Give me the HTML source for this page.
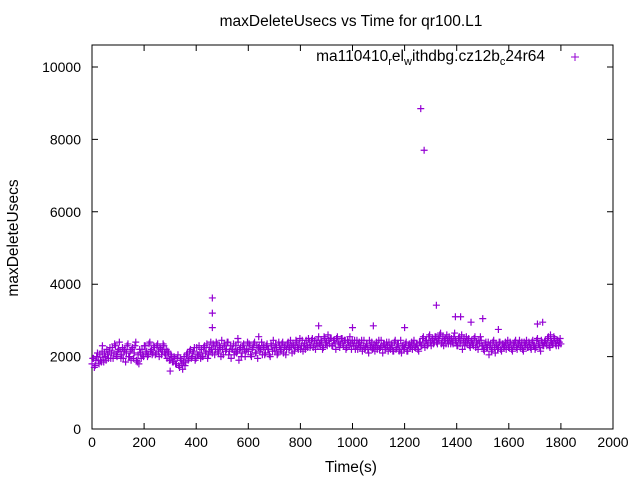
<!DOCTYPE html>
<html><head><meta charset="utf-8"><style>
body{margin:0;background:#fff}
svg{display:block;font-family:"Liberation Sans",sans-serif}
</style></head><body>
<svg id="chart" width="640" height="480" xmlns="http://www.w3.org/2000/svg">
<rect width="640" height="480" fill="#fff"/>
<text x="351" y="26" font-size="15.5" text-anchor="middle">maxDeleteUsecs vs Time for qr100.L1</text>
<text transform="translate(18,238) rotate(-90)" font-size="15.5" text-anchor="middle">maxDeleteUsecs</text>
<text x="351" y="472" font-size="15.5" text-anchor="middle">Time(s)</text>
<g id="axes"></g>
<g id="marks"></g>
<g>
<text x="545" y="61" font-size="15.5" text-anchor="end">ma110410<tspan font-size="11" dy="4">r</tspan><tspan dy="-4">el</tspan><tspan font-size="11" dy="4">w</tspan><tspan dy="-4">ithdbg.cz12b</tspan><tspan font-size="11" dy="4">c</tspan><tspan dy="-4">24r64</tspan></text>
<path d="M571 57h8M575 53v8" stroke="#9400d3" stroke-width="1"/>
</g>
</svg>
<script>
const xTicks=[0,200,400,600,800,1000,1200,1400,1600,1800,2000];
const yTicks=[0,2000,4000,6000,8000,10000];
const tStart=0, tStep=6, tStart2=3;
const values=[
1800,1950,1750,2000,1900,2050,1850,1980,2100,1900,
2050,2150,1950,2250,2100,2300,2000,2200,2150,2050,
1950,2200,2100,2350,2000,1900,2250,2100,2400,1850,
1800,2100,2200,2000,2300,2150,2050,2400,2200,2100,
2250,2100,2350,2000,2200,2150,2300,2050,1950,2100,
1900,2000,1850,1950,1800,2050,1700,1900,1650,2000,
1850,2100,1950,2200,2000,2150,1900,2250,2050,2100,
2200,2000,2300,2150,1950,2250,2400,2100,2300,2200,
2350,2100,2250,2450,2050,2300,2200,2400,2150,1950,
2200,2050,2300,2150,1900,2250,2100,2350,2000,2200,
2150,2300,2000,2250,2400,2100,1950,2300,2200,2050,
2250,2100,2350,2200,2000,2300,2450,2150,2250,2100,
2300,2150,2400,2250,2050,2350,2200,2450,2100,2300,
2250,2400,2200,2500,2300,2150,2350,2450,2250,2400,
2300,2500,2350,2200,2450,2550,2300,2400,2250,2500,
2400,2600,2350,2500,2300,2450,2200,2550,2400,2350,
2500,2300,2450,2250,2400,2550,2200,2350,2450,2300,
2200,2400,2300,2150,2450,2250,2350,2100,2300,2400,
2250,2150,2400,2300,2200,2450,2100,2350,2250,2300,
2400,2200,2300,2150,2450,2250,2350,2200,2100,2300,
2250,2400,2150,2350,2300,2200,2450,2250,2350,2150,
2400,2300,2550,2250,2450,2350,2600,2300,2500,2400,
2550,2350,2450,2650,2400,2300,2500,2600,2350,2450,
2500,2350,2650,2400,2300,2550,2450,2200,2500,2400,
2350,2500,2250,2450,2300,2550,2400,2200,2350,2450,
2300,2150,2400,2250,2050,2350,2200,2450,2100,2300,
2250,2400,2150,2350,2300,2200,2450,2250,2350,2150,
2300,2450,2200,2350,2250,2400,2150,2300,2450,2250,
2350,2200,2450,2300,2250,2500,2350,2150,2400,2300,
2450,2300,2550,2250,2400,2350,2500,2300,2450,2400,
2350];
const values2=[
1950,1700,1900,2100,1800,1900,2150,1850,2000,2200,
1950,2250,2100,1950,2350,2050,2150,2400,1950,2250,
2150,1850,2300,2000,2150,2200,1950,2300,1900,2050,
2200,1950,2050,2300,2100,2000,2350,2150,2050,2300,
2050,2300,2150,2250,2050,2350,2100,2200,2150,1900,
2050,1850,2000,1800,1950,1750,1950,1800,1850,1750,
2050,1900,2150,1950,2100,2250,1950,2050,2300,1950,
2000,2250,2100,2350,2050,2150,2200,2350,2050,2400,
2150,2300,2000,2200,2350,2150,2400,2050,2300,2200,
2350,2150,2100,2400,2200,2000,2300,2200,2150,2400,
2350,2050,2200,2350,2100,2300,2250,2150,2400,2300,
2050,2300,2200,2050,2350,2150,2250,2350,2050,2400,
2200,2350,2100,2300,2200,2400,2250,2300,2350,2150,
2450,2250,2350,2200,2450,2300,2200,2300,2500,2250,
2450,2250,2450,2350,2300,2350,2450,2200,2550,2350,
2300,2450,2500,2300,2450,2350,2500,2350,2250,2500,
2350,2450,2200,2450,2300,2350,2450,2300,2200,2450,
2350,2250,2450,2300,2200,2350,2200,2450,2250,2200,
2350,2300,2200,2450,2250,2300,2350,2200,2400,2150,
2250,2350,2150,2400,2200,2350,2150,2450,2300,2200,
2350,2150,2300,2250,2400,2350,2250,2350,2200,2400,
2300,2500,2350,2450,2300,2550,2400,2450,2350,2550,
2400,2500,2600,2350,2550,2450,2350,2450,2550,2350,
2400,2550,2450,2300,2500,2350,2600,2400,2300,2550,
2450,2300,2400,2350,2500,2250,2350,2450,2550,2300,
2200,2350,2250,2400,2300,2150,2400,2250,2350,2200,
2400,2200,2350,2250,2400,2350,2250,2400,2200,2350,
2400,2250,2350,2450,2300,2200,2400,2350,2250,2400,
2250,2400,2300,2200,2450,2350,2250,2450,2300,2400,
2350,2500,2300,2450,2350,2550,2350,2450,2300,2500];
const outlierT=[462,462,462,1262,1275,1322,1395,1415,1455,1710,1730,1500,870,1000,1080,1200,1560,1760,40,560,640,300];
const outlierV=[3620,3200,2800,8850,7700,3420,3100,3100,2950,2900,2950,3050,2850,2800,2850,2800,2750,2600,2300,2500,2550,1600];
const L=92,R=613,T=45,B=429;
const xs=v=>L+(v-0)/2000*(R-L);
const ys=v=>B-(v-0)/10000*(429-67);
const NS="http://www.w3.org/2000/svg";
const axes=document.getElementById('axes');
function mk(tag,attrs,parent){const e=document.createElementNS(NS,tag);for(const k in attrs)e.setAttribute(k,attrs[k]);parent.appendChild(e);return e;}
const frame=mk('rect',{x:L,y:T,width:R-L,height:B-T,fill:'none',stroke:'#000','stroke-width':1},axes);


xTicks.forEach(t=>{const x=xs(t);
 const tk=mk('path',{d:`M${x} ${B}v-6M${x} ${T}v6`,stroke:'#000'},axes);
 
 
 const tx=mk('text',{x:x,y:B+18,'font-size':14,'text-anchor':'middle'},axes);tx.textContent=t;
 
 
});
yTicks.forEach(t=>{const y=ys(t);
 const tk=mk('path',{d:`M${L} ${y}h6M${R} ${y}h-6`,stroke:'#000'},axes);
 
 
 const tx=mk('text',{x:L-11,y:y+5,'font-size':14,'text-anchor':'end'},axes);tx.textContent=t;
 
 
});
const marks=document.getElementById('marks');
function plus(t,v){const x=xs(t),y=ys(v);
 const p=mk('path',{d:`M${x-3.5} ${y}h7M${x} ${y-3.5}v7`,stroke:'#9400d3','stroke-width':1.2},marks);
 
 
}
values.forEach((v,i)=>plus(tStart+i*tStep,v));
values2.forEach((v,i)=>plus(tStart2+i*tStep,v));
outlierT.forEach((t,i)=>plus(t,outlierV[i]));
</script>
</body></html>
